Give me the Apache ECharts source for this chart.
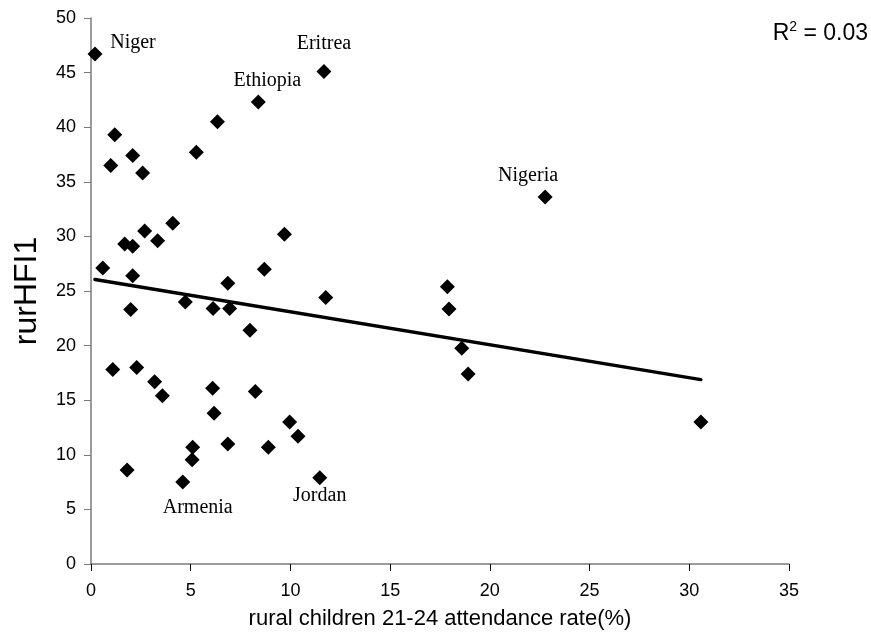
<!DOCTYPE html>
<html>
<head>
<meta charset="utf-8">
<script src="https://cdn.jsdelivr.net/npm/echarts@6/dist/echarts.min.js"></script>
<style>html,body{margin:0;padding:0;background:#fff}#c{width:871px;height:640px}</style>
</head>
<body>
<div id="c"></div>
<script>
// attendance rate (%) values
var xValues = [0.2, 11.68, 8.39, 6.34, 1.19, 2.09, 5.28, 0.99, 2.59, 4.1, 2.69, 1.69, 2.09, 3.34, 9.7, 0.59, 2.09, 8.69, 6.86,
  1.99, 4.73, 6.12, 6.95, 11.77, 7.97, 1.09, 2.29, 3.19, 3.58, 6.1, 8.24, 6.17, 9.96, 10.38, 6.86, 8.89, 5.1, 5.07, 1.81, 4.6, 11.47,
  22.77, 17.87, 17.95, 18.59, 18.91, 30.58];
// rurHFI1 values
var yValues = [46.7, 45.1, 42.3, 40.5, 39.3, 37.4, 37.7, 36.5, 35.8, 31.2, 30.5, 29.3, 29.1, 29.6, 30.2, 27.1, 26.4, 27.0, 25.7,
  23.3, 24.0, 23.4, 23.4, 24.4, 21.4, 17.8, 18.0, 16.7, 15.4, 16.1, 15.8, 13.8, 13.0, 11.7, 11.0, 10.7, 10.7, 9.55, 8.6, 7.5, 7.9,
  33.6, 25.4, 23.35, 19.75, 17.4, 13.0];
// country names (blank = unlabelled)
var countryNames = ['Niger', 'Eritrea', 'Ethiopia', '', '', '', '', '', '', '', '', '', '', '', '', '', '', '', '',
  '', '', '', '', '', '', '', '', '', '', '', '', '', '', '', '', '', '', '', '', 'Armenia', 'Jordan',
  'Nigeria', '', '', '', '', ''];
var xTicks = [0, 5, 10, 15, 20, 25, 30, 35];
var yTicks = [0, 5, 10, 15, 20, 25, 30, 35, 40, 45, 50];
var r2Text = '0.03';

var labelOffsets = {
  'Niger': [38, -11],
  'Eritrea': [0, -28],
  'Ethiopia': [9, -21],
  'Nigeria': [-17, -21],
  'Armenia': [15, 26],
  'Jordan': [0, 18]
};

// linear regression computed from data
var n = xValues.length, sx = 0, sy = 0, sxx = 0, sxy = 0;
for (var i = 0; i < n; i++) { sx += xValues[i]; sy += yValues[i]; sxx += xValues[i] * xValues[i]; sxy += xValues[i] * yValues[i]; }
var slope = (n * sxy - sx * sy) / (n * sxx - sx * sx);
var intercept = (sy - slope * sx) / n;
var xmin = Math.min.apply(null, xValues), xmax = Math.max.apply(null, xValues);
var trend = [[xmin, intercept + slope * xmin], [xmax, intercept + slope * xmax]];

var pts = xValues.map(function (x, i) {
  var nm = countryNames[i];
  var d = { value: [x, yValues[i]], name: nm };
  if (nm) {
    d.label = { show: true, formatter: nm, position: 'inside', offset: labelOffsets[nm] };
  }
  return d;
});

var chart = echarts.init(document.getElementById('c'));
var axisLineColor = '#7a7a7a';
chart.setOption({
  animation: false,
  grid: { left: 91, right: 82, top: 18, bottom: 76 },
  xAxis: {
    type: 'value', min: 0, max: 35, interval: 5,
    name: 'rural children 21-24 attendance rate(%)', nameLocation: 'middle', nameGap: 44,
    nameTextStyle: { fontFamily: 'Liberation Sans, Arial', fontSize: 22, color: '#000' },
    axisLine: { lineStyle: { color: axisLineColor, width: 1.5 } },
    axisTick: { show: true, length: 7, lineStyle: { color: '#000' } },
    axisLabel: { fontFamily: 'Liberation Sans, Arial', fontSize: 18, color: '#000', margin: 18 },
    splitLine: { show: false }
  },
  yAxis: {
    type: 'value', min: 0, max: 50, interval: 5,
    name: 'rurHFI1', nameLocation: 'middle', nameGap: 48,
    nameTextStyle: { fontFamily: 'Liberation Sans, Arial', fontSize: 32, color: '#000' },
    axisLine: { show: true, lineStyle: { color: axisLineColor, width: 1.5 } },
    axisTick: { show: true, length: 7, lineStyle: { color: axisLineColor } },
    axisLabel: { fontFamily: 'Liberation Sans, Arial', fontSize: 18, color: '#000', margin: 15 },
    splitLine: { show: false }
  },
  graphic: [{
    type: 'text', right: 3, top: 20,
    style: {
      text: '{n|R}{s|2}{n| = ' + r2Text + '}',
      rich: {
        n: { fontFamily: 'Liberation Sans, Arial', fontSize: 23, fill: '#000', verticalAlign: 'bottom' },
        s: { fontFamily: 'Liberation Sans, Arial', fontSize: 14, fill: '#000', verticalAlign: 'top', padding: [0, 0, 11, 0] }
      }
    }
  }],
  series: [{
    type: 'scatter',
    symbol: 'diamond', symbolSize: 15,
    itemStyle: { color: '#000', opacity: 1 },
    label: { show: false, fontFamily: 'Liberation Serif, Times New Roman', fontSize: 20, color: '#000' },
    data: pts,
    z: 3
  }, {
    type: 'line',
    data: trend,
    symbol: 'none',
    lineStyle: { color: '#000', width: 3.5, cap: 'round' },
    z: 2
  }]
});
</script>
</body>
</html>
